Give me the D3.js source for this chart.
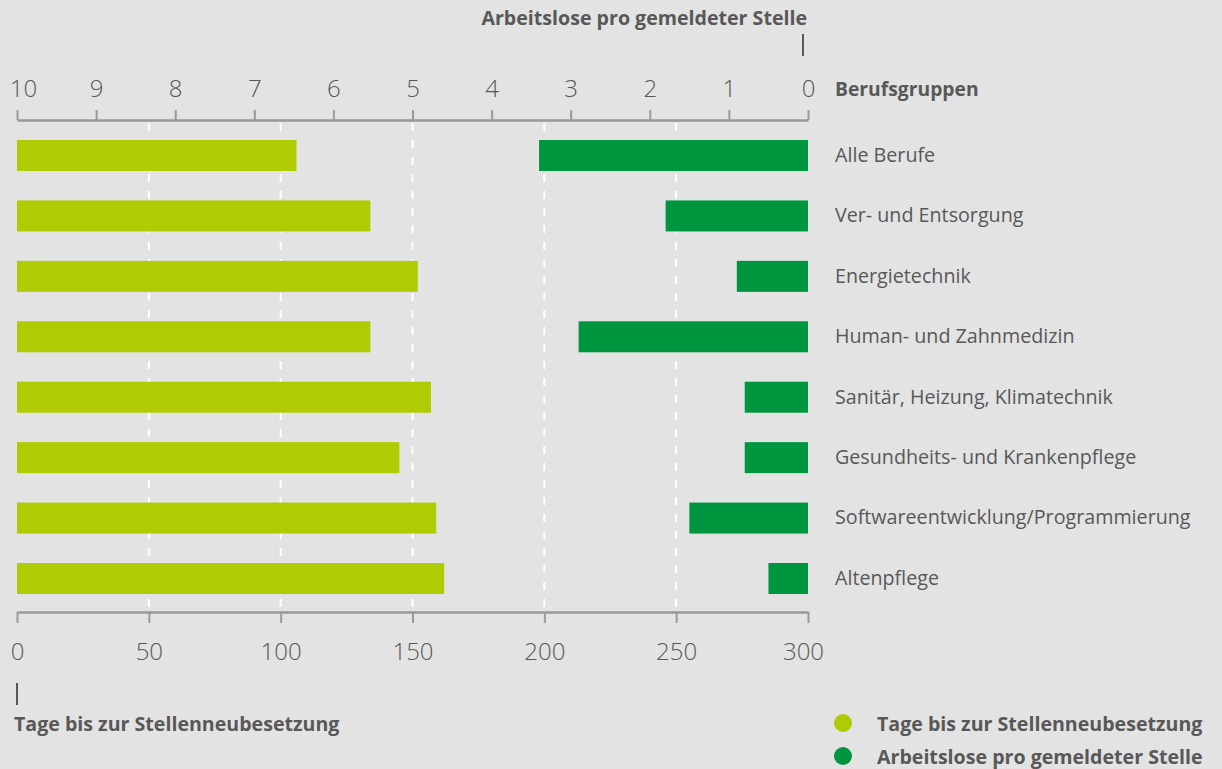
<!DOCTYPE html>
<meta charset="utf-8">
<script src="https://d3js.org/d3.v7.min.js"></script>
<style>
  body { margin: 0; background: #e3e3e3; }
  svg { display: block; font-family: "Open Sans", sans-serif; }
</style>
<svg id="chart" width="1222" height="769"></svg>
<script>

// data
var categories = ["Alle Berufe", "Ver- und Entsorgung", "Energietechnik", "Human- und Zahnmedizin",
  "Sanitär, Heizung, Klimatechnik", "Gesundheits- und Krankenpflege",
  "Softwareentwicklung/Programmierung", "Altenpflege"]
var tage = [106, 134, 152, 134, 157, 145, 159, 162]
var arbeitslose = [3.4, 1.8, 0.9, 2.9, 0.8, 0.8, 1.5, 0.5]
var tageTicks = [0, 50, 100, 150, 200, 250, 300]
var arbTicks = [10, 9, 8, 7, 6, 5, 4, 3, 2, 1, 0]
var gridTicks = [50, 100, 150, 200, 250]
var legendLabels = ["Tage bis zur Stellenneubesetzung", "Arbeitslose pro gemeldeter Stelle"]

var lightGreen = "#b0ca03"
var darkGreen = "#00963f"
var textCol = "#585858"
var axisCol = "#999999"

var svg = d3.select("#chart")

var x = d3.scaleLinear().domain([0, 300]).range([17, 808])
var x2 = d3.scaleLinear().domain([10, 0]).range([17, 808])
var y = d3.scaleBand().domain(categories).range([140, 594]).paddingInner(0.487).paddingOuter(0)

// gridlines
svg.append("g")
  .selectAll("line")
  .data(gridTicks)
  .join("line")
    .attr("x1", d => x(d)).attr("x2", d => x(d))
    .attr("y1", 123).attr("y2", 612)
    .attr("stroke", "#ffffff")
    .attr("stroke-width", 2)
    .attr("stroke-dasharray", "8,9")

// top axis (Arbeitslose)
var topAxis = svg.append("g")
  .attr("transform", "translate(0,120)")
  .call(d3.axisTop(x2).tickValues(arbTicks).tickSize(10).tickPadding(13).tickSizeOuter(0))
topAxis.select(".domain").attr("stroke", axisCol).attr("stroke-width", 2.5)
topAxis.selectAll(".tick line").attr("stroke", axisCol).attr("stroke-width", 2)
topAxis.selectAll(".tick text")
  .attr("fill", textCol).attr("font-size", 24).attr("font-weight", 300)
  .attr("font-family", "'Open Sans', sans-serif")
  .attr("dx", d => d === 10 ? 6 : 0)

// bottom axis (Tage)
var botAxis = svg.append("g")
  .attr("transform", "translate(0,612)")
  .call(d3.axisBottom(x).tickValues(tageTicks).tickSize(11).tickPadding(20).tickSizeOuter(0))
botAxis.select(".domain").attr("stroke", axisCol).attr("stroke-width", 2.5)
botAxis.selectAll(".tick line").attr("stroke", axisCol).attr("stroke-width", 2)
botAxis.selectAll(".tick text")
  .attr("fill", textCol).attr("font-size", 24).attr("font-weight", 300)
  .attr("font-family", "'Open Sans', sans-serif")
  .attr("dx", d => d === 300 ? -5 : 0)

// bars
svg.append("g")
  .selectAll("rect")
  .data(categories)
  .join("rect")
    .attr("x", x(0))
    .attr("y", d => y(d))
    .attr("width", (d, i) => x(tage[i]) - x(0))
    .attr("height", y.bandwidth())
    .attr("fill", lightGreen)

svg.append("g")
  .selectAll("rect")
  .data(categories)
  .join("rect")
    .attr("x", (d, i) => x2(arbeitslose[i]))
    .attr("y", d => y(d))
    .attr("width", (d, i) => x2(0) - x2(arbeitslose[i]))
    .attr("height", y.bandwidth())
    .attr("fill", darkGreen)

// category labels
svg.append("g")
  .selectAll("text")
  .data(categories)
  .join("text")
    .attr("x", 835)
    .attr("y", d => y(d) + y.bandwidth() / 2)
    .attr("dy", "0.32em")
    .attr("font-size", 19.7)
    .attr("fill", textCol)
    .text(d => d)

svg.append("text")
  .attr("x", 835).attr("y", 96)
  .attr("font-size", 19.3).attr("font-weight", "bold")
  .attr("fill", textCol)
  .text("Berufsgruppen")

// axis titles with little markers
svg.append("text")
  .attr("x", 807).attr("y", 25)
  .attr("text-anchor", "end")
  .attr("font-size", 19.6).attr("font-weight", "bold")
  .attr("fill", textCol)
  .text(legendLabels[1])
svg.append("line")
  .attr("x1", 803).attr("x2", 803).attr("y1", 34).attr("y2", 56)
  .attr("stroke", textCol).attr("stroke-width", 2)

svg.append("text")
  .attr("x", 14).attr("y", 731)
  .attr("font-size", 19.6).attr("font-weight", "bold")
  .attr("fill", textCol)
  .text(legendLabels[0])
svg.append("line")
  .attr("x1", 17).attr("x2", 17).attr("y1", 683).attr("y2", 705)
  .attr("stroke", textCol).attr("stroke-width", 2)

// legend
var legend = svg.append("g")
  .selectAll("g")
  .data(legendLabels)
  .join("g")
    .attr("transform", (d, i) => "translate(843," + (723 + i * 33) + ")")
legend.append("circle")
  .attr("r", 9)
  .attr("fill", (d, i) => i === 0 ? lightGreen : darkGreen)
legend.append("text")
  .attr("x", 34).attr("dy", "0.4em")
  .attr("font-size", 19.6).attr("font-weight", "bold")
  .attr("fill", textCol)
  .text(d => d)

</script>
